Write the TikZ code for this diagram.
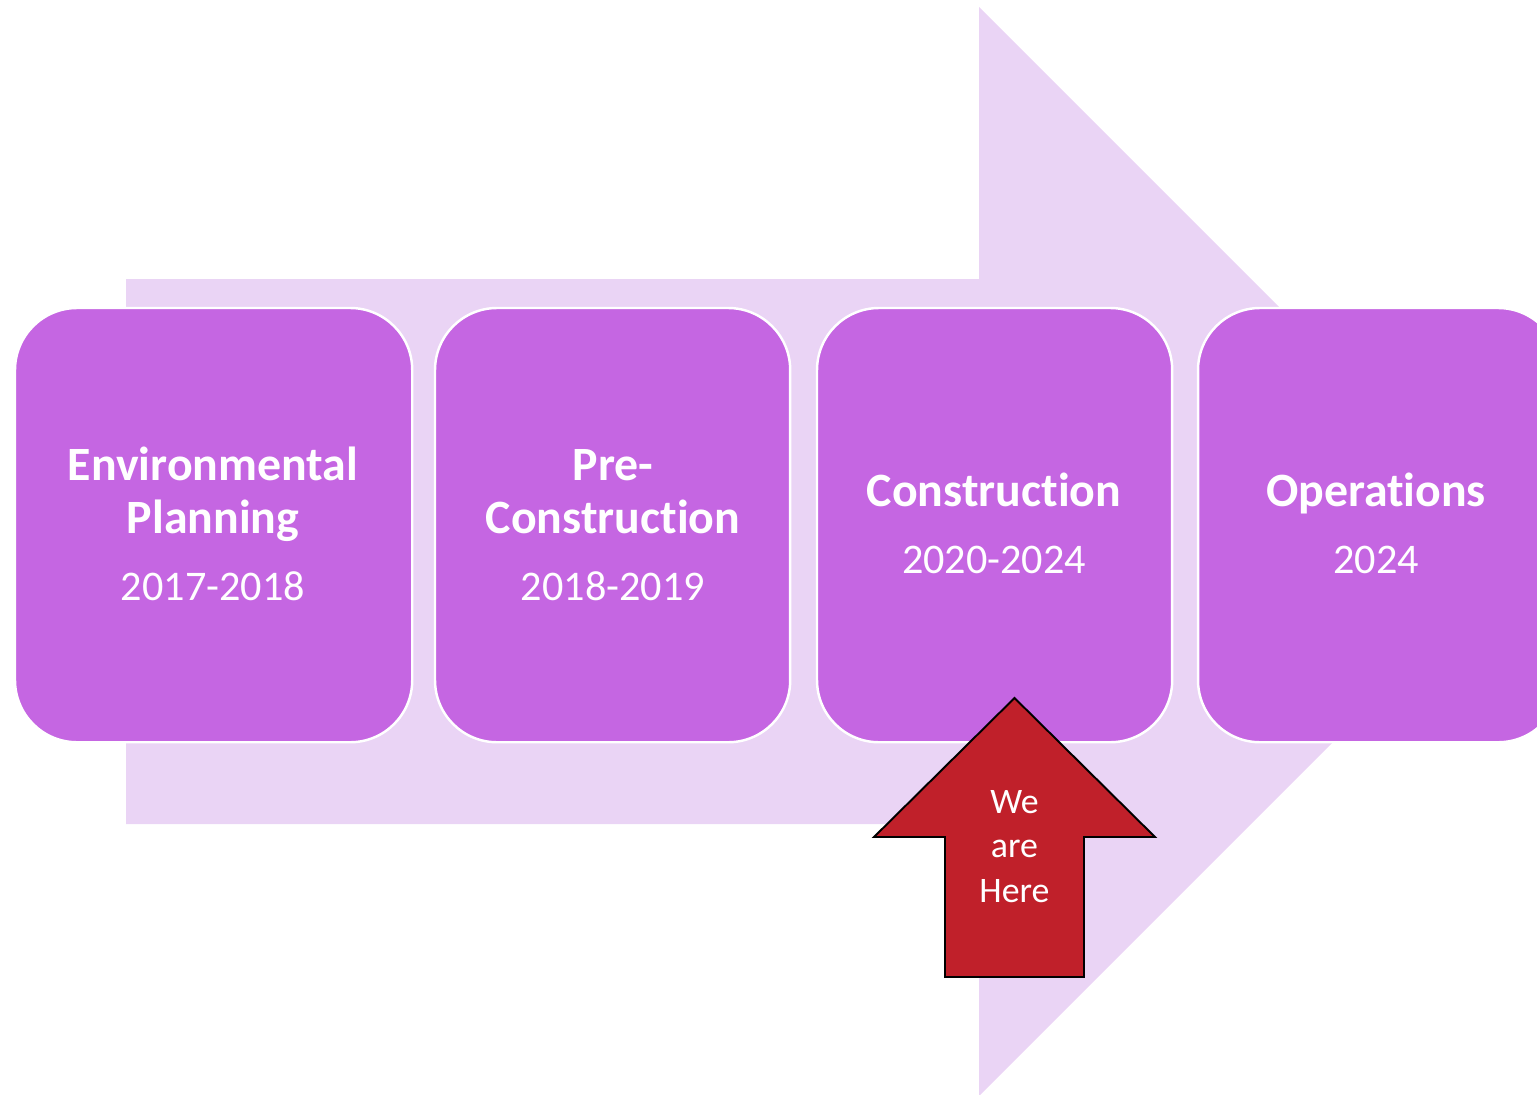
\documentclass[tikz,border=0pt]{standalone}
\usepackage{fontspec}
\setmainfont{Carlito}[Ligatures=NoCommon]
\definecolor{lav}{HTML}{EAD4F5}
\definecolor{boxp}{HTML}{C566E2}
\definecolor{redar}{HTML}{C0202A}
\begin{document}
\begin{tikzpicture}[x=0.01cm,y=-0.01cm,
  stage/.style={draw=white,line width=0.7pt,fill=boxp,rounded corners=0.62cm,
    minimum height=4.34cm,inner sep=0pt,outer sep=0pt,anchor=north west},
  ttl/.style={text=white,font=\fontsize{13.6}{15}\selectfont\bfseries,align=center,anchor=base,inner sep=0pt},
  yr/.style={text=white,font=\fontsize{12}{14}\selectfont,anchor=base,inner sep=0pt},
  here/.style={text=white,font=\fontsize{10.2}{12.6}\selectfont,anchor=base,inner sep=0pt}]
\useasboundingbox (0,0) rectangle (1537,1094);
\clip (0,0) rectangle (1537,1094);
% big background arrow
\fill[lav] (126,279) -- (979,279) -- (979,7) -- (1523.5,551.5) -- (979,1096) -- (979,824) -- (126,824) -- cycle;
% stage boxes
\node[stage,minimum width=3.97cm] (b1) at (15,308) {};
\node[stage,minimum width=3.55cm] (b2) at (435,308) {};
\node[stage,minimum width=3.55cm] (b3) at (817,308) {};
\node[stage,minimum width=3.62cm] (b4) at (1198,308) {};
% texts
\node[ttl] (t1a) at (213,480) {Environmental};
\node[ttl] (t1b) at (213,533) {Planning};
\node[yr] (y1) at (213,600) {2017-2018};
\node[ttl] (t2a) at (613,480) {Pre-};
\node[ttl] (t2b) at (613,533) {Construction};
\node[yr] (y2) at (613,600) {2018-2019};
\node[ttl] (t3) at (994,506) {Construction};
\node[yr] (y3) at (994,573) {2020-2024};
\node[ttl] (t4) at (1376,506) {Operations};
\node[yr] (y4) at (1376,573) {2024};
% red arrow
\draw[fill=redar,draw=black,line width=0.55pt,line join=miter]
  (1014.5,698) -- (1155,837) -- (1084,837) -- (1084,977) -- (945,977) -- (945,837) -- (874,837) -- cycle;
\node[here] (h1) at (1014.5,813) {We};
\node[here] (h2) at (1014.5,857) {are};
\node[here] (h3) at (1014.5,902) {Here};
\end{tikzpicture}
\end{document}
